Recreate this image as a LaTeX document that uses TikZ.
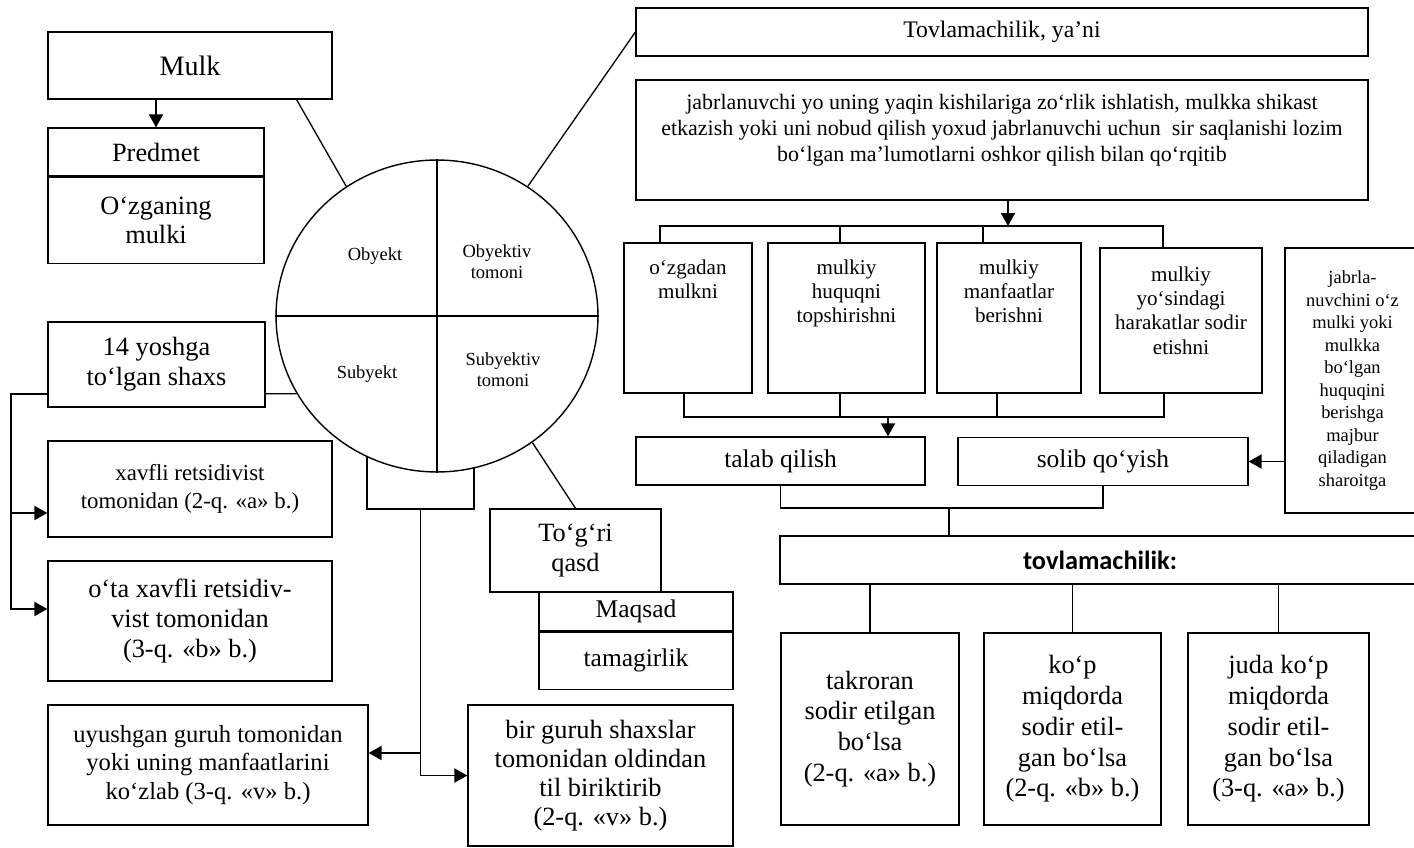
\documentclass[tikz,border=0pt]{standalone}
\usepackage{fontspec}
\setmainfont{Liberation Serif}
\newfontfamily\carlito{Carlito}
\usetikzlibrary{positioning,arrows.meta,shapes.geometric}
\newcommand{\fsz}[2]{\fontsize{#1}{#2}\selectfont}
\tikzset{
  flowarrow/.style={-{Triangle[length=2.6mm,width=2.8mm]}, line width=1.1pt},
  link/.style={line width=0.75pt},
  cell/.style={draw, line width=0.75pt, align=center, inner sep=2pt},
  txt/.style={align=center, inner sep=0pt},
  lbl/.style={align=center, inner sep=0pt, font=\fsz{10.5}{12}}
}
\begin{document}
\begin{tikzpicture}[x=0.02cm, y=-0.02cm, >=Latex, every node/.style={font=\fsz{14}{16}}]
  \useasboundingbox (0,0) rectangle (1414,848);
  % left part
  \node[cell, minimum width=5.68cm, minimum height=1.34cm, font=\fsz{16}{18}] (mulk) at (190,65.5) {Mulk};
  \node[cell, minimum width=4.32cm, minimum height=0.96cm, font=\fsz{15}{17}] (predmet) at (156,152) {Predmet};
  \node[cell, minimum width=4.32cm, minimum height=1.72cm, font=\fsz{15}{17}, below=0pt of predmet] (ozgan) {O‘zganing\\mulki};
  \node[cell, minimum width=4.34cm, minimum height=1.70cm, font=\fsz{15}{17}] (yosh) at (156.5,364.5) {14 yoshga\\to‘lgan shaxs};
  \node[cell, minimum width=5.68cm, minimum height=1.92cm, font=\fsz{13}{16}] (xavf) at (190,489) {xavfli retsidivist\\tomonidan (2-q. «a» b.)};
  \node[cell, minimum width=5.68cm, minimum height=2.40cm, font=\fsz{15}{17}] (ota) at (190,621) {o‘ta xavfli retsidiv-\\vist tomonidan\\(3-q. «b» b.)};
  \node[cell, minimum width=6.40cm, minimum height=2.40cm, font=\fsz{14}{16}] (uyush) at (208,765) {uyushgan guruh tomonidan\\yoki uning manfaatlarini\\ko‘zlab (3-q. «v» b.)};
  \node[cell, minimum width=5.30cm, minimum height=2.82cm, font=\fsz{15}{16.5}] (bir) at (600.5,775.5) {bir guruh shaxslar\\tomonidan oldindan\\til biriktirib\\(2-q. «v» b.)};
  \node[cell, minimum width=2.14cm, minimum height=1.38cm] (stub) at (420.5,474.5) {};
  \node[draw, ellipse, line width=0.8pt, fill=white, minimum width=6.44cm, minimum height=6.24cm] (elem) at (437,316) {};
  \draw[link] (elem.north) -- (elem.south);
  \draw[link] (elem.west) -- (elem.east);
  \node[lbl] (obj) at (375,256) {Obyekt};
  \node[lbl] (objside) at (497,262) {Obyektiv\\tomoni};
  \node[lbl] (subj) at (367,374) {Subyekt};
  \node[lbl] (subjside) at (503,370) {Subyektiv\\tomoni};
  \node[cell, minimum width=3.42cm, minimum height=1.66cm, font=\fsz{15}{17}] (qasd) at (575.5,550.5) {To‘g‘ri\\qasd};
  \node[cell, minimum width=3.88cm, minimum height=0.78cm, font=\fsz{14.5}{16}] (maqsad) at (636,611.5) {Maqsad};
  \node[cell, minimum width=3.88cm, minimum height=1.14cm, font=\fsz{14.5}{16}, below=0pt of maqsad] (tamag) {tamagirlik};
  % right part
  \node[cell, minimum width=14.64cm, minimum height=0.96cm, font=\fsz{13.5}{16}] (tov) at (1002,32) {Tovlamachilik, ya’ni};
  \node[cell, minimum width=14.64cm, minimum height=2.40cm] (desc) at (1002,140) {};
  \node[txt, font=\fsz{12.5}{14.8}, below=3mm of desc.north] (desctxt) {jabrlanuvchi yo uning yaqin kishilariga zo‘rlik ishlatish, mulkka shikast\\etkazish yoki uni nobud qilish yoxud jabrlanuvchi uchun\ \ sir saqlanishi lozim\\bo‘lgan ma’lumotlarni oshkor qilish bilan qo‘rqitib};
  \node[cell, minimum width=2.56cm, minimum height=3.0cm] (b1) at (688,318) {};
  \node[cell, minimum width=3.14cm, minimum height=3.0cm] (b2) at (846.5,318) {};
  \node[cell, minimum width=2.88cm, minimum height=3.0cm] (b3) at (1009,318) {};
  \node[cell, minimum width=3.24cm, minimum height=2.9cm] (b4) at (1181,320.5) {};
  \node[txt, font=\fsz{12}{13.7}, below=3.5mm of b1.north] (b1txt) {o‘zgadan\\mulkni};
  \node[txt, font=\fsz{12}{13.7}, below=3.5mm of b2.north] (b2txt) {mulkiy\\huquqni\\topshirishni};
  \node[txt, font=\fsz{12}{13.7}, below=3.5mm of b3.north] (b3txt) {mulkiy\\manfaatlar\\berishni};
  \node[txt, font=\fsz{12}{13.7}, below=3.9mm of b4.north] (b4txt) {mulkiy\\yo‘sindagi\\harakatlar sodir\\etishni};
  \node[cell, minimum width=5.78cm, minimum height=0.96cm, font=\fsz{14.5}{16}] (talab) at (780.5,461) {talab qilish};
  \node[cell, minimum width=5.80cm, minimum height=0.96cm, font=\fsz{14.5}{16}] (solib) at (1103,461.5) {solib qo‘yish};
  \node[cell, minimum width=2.70cm, minimum height=5.30cm, font=\fsz{10.5}{12.8}] (jabrla) at (1352.5,380.5) {jabrla-\\nuvchini o‘z\\mulki yoki\\mulkka\\bo‘lgan\\huquqini\\berishga\\majbur\\qiladigan\\sharoitga};
  \node[cell, minimum width=12.80cm, minimum height=0.96cm, font=\carlito\bfseries\fsz{15}{17}] (tov2) at (1100,560) {tovlamachilik:};
  \node[cell, minimum width=3.56cm, minimum height=3.84cm, font=\fsz{15}{17.5}] (qualA) at (870,729) {takroran\\sodir etilgan\\bo‘lsa\\(2-q. «a» b.)};
  \node[cell, minimum width=3.54cm, minimum height=3.84cm, font=\fsz{15}{17.5}] (qualB) at (1072.5,729) {ko‘p\\miqdorda\\sodir etil-\\gan bo‘lsa\\(2-q. «b» b.)};
  \node[cell, minimum width=3.62cm, minimum height=3.84cm, font=\fsz{15}{17.5}] (qualC) at (1278.5,729) {juda ko‘p\\miqdorda\\sodir etil-\\gan bo‘lsa\\(3-q. «a» b.)};
  \coordinate (split) at (1008,226);
  \coordinate (merge) at (888,417);
  \coordinate (joint) at (949,508);
  % connectors
  \draw[flowarrow] (mulk.south -| predmet.north) -- (predmet.north);
  \draw[link] ([xshift=-0.72cm]mulk.south east) -- (elem.125);
  \draw[link] (elem.55) -- (tov.west);
  \draw[link] ([yshift=0.28cm]yosh.south east) -- (elem.209);
  \draw[link] (elem.307) -- (qasd.north);
  \draw[flowarrow] ([yshift=0.28cm]yosh.south west) -- ++(-0.72cm,0) |- ([yshift=0.24cm]ota.west);
  \draw[flowarrow] ([xshift=-0.72cm,yshift=-0.48cm]xavf.west) -- ([yshift=-0.48cm]xavf.west);
  \draw[flowarrow] (stub.south) |- (bir.west);
  \draw[flowarrow] ([yshift=0.24cm]uyush.east -| stub.south) -- ([yshift=0.24cm]uyush.east);
  \draw[flowarrow] (desc.south -| split) -- (split);
  \draw[link] ([xshift=-0.56cm]b1.north) |- (split) -| ([xshift=-0.36cm]b4.north);
  \draw[link] ([xshift=-0.13cm]b2.north) -- ([xshift=-0.13cm]b2.north |- split);
  \draw[link] ([xshift=-0.52cm]b3.north) -- ([xshift=-0.52cm]b3.north |- split);
  \draw[link] ([xshift=-0.08cm]b1.south) |- (merge) -| ([xshift=-0.34cm]b4.south);
  \draw[link] ([xshift=-0.13cm]b2.south) -- ([xshift=-0.13cm]b2.south |- merge);
  \draw[link] ([xshift=-0.24cm]b3.south) -- ([xshift=-0.24cm]b3.south |- merge);
  \draw[flowarrow] (merge) -- (merge |- talab.north);
  \draw[link] (talab.south) |- (joint) -| (solib.south);
  \draw[link] (joint) -- (joint |- tov2.north);
  \draw[flowarrow] (jabrla.west |- solib.east) -- (solib.east);
  \draw[link] (tov2.south -| qualA.north) -- (qualA.north);
  \draw[link] (tov2.south -| qualB.north) -- (qualB.north);
  \draw[link] (tov2.south -| qualC.north) -- (qualC.north);
\end{tikzpicture}
\end{document}
